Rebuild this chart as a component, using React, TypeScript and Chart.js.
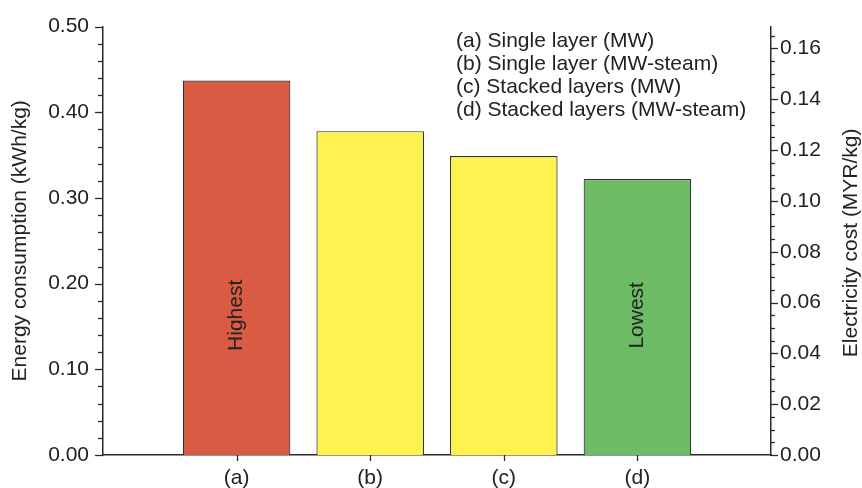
import React, { useEffect, useRef } from 'react';
import { Chart, registerables } from 'chart.js';
Chart.register(...registerables);

const categories = ['', '(a)', '(b)', '(c)', '(d)', ''];
const energy = [null, 0.437, 0.378, 0.349, 0.322, null];
const barColors = ['rgba(0,0,0,0)', '#D95B43', '#FFF150', '#FFF150', '#6EBB66', 'rgba(0,0,0,0)'];
const barNotes = ['', 'Highest', '', '', 'Lowest', ''];
const noteValue = 0.163;
const legendLines = [
  '(a) Single layer (MW)',
  '(b) Single layer (MW-steam)',
  '(c) Stacked layers (MW)',
  '(d) Stacked layers (MW-steam)',
];
const energyMax = 0.5;
const energyStep = 0.1;
const energyMinorStep = 0.02;
const costMax = 0.1686;
const costStep = 0.02;
const costMinorStep = 0.005;
const leftTitle = 'Energy consumption (kWh/kg)';
const rightTitle = 'Electricity cost (MYR/kg)';

const FONT = '"Liberation Sans", Arial, Helvetica, sans-serif';
const TEXT = '#222222';
const AXIS = '#2a2a2a';

const decorPlugin = {
  id: 'decor',
  afterDraw(chart: any) {
    const ctx = chart.ctx;
    const { left, right, top, bottom } = chart.chartArea;
    const xs = chart.scales.x;
    const ys = chart.scales.y;
    const y2 = chart.scales.y2;
    ctx.save();
    ctx.strokeStyle = AXIS;
    ctx.lineWidth = 1.3;
    // left ticks
    const nL = Math.round(energyMax / energyMinorStep);
    const per = Math.round(energyStep / energyMinorStep);
    for (let i = 0; i <= nL; i++) {
      const y = Math.round(ys.getPixelForValue(i * energyMinorStep)) + 0.5;
      const len = i % per === 0 ? 8 : 5;
      ctx.beginPath();
      ctx.moveTo(left - len, y);
      ctx.lineTo(left, y);
      ctx.stroke();
    }
    // right ticks
    const nR = Math.floor(costMax / costMinorStep + 1e-9);
    const perR = Math.round(costStep / costMinorStep);
    for (let i = 0; i <= nR; i++) {
      const y = Math.round(y2.getPixelForValue(i * costMinorStep)) + 0.5;
      const len = i % perR === 0 ? 7 : 4;
      ctx.beginPath();
      ctx.moveTo(right, y);
      ctx.lineTo(right + len, y);
      ctx.stroke();
    }
    // x ticks
    categories.forEach((c, i) => {
      if (!c) return;
      const x = Math.round(xs.getPixelForValue(i)) + 0.5;
      ctx.beginPath();
      ctx.moveTo(x, bottom);
      ctx.lineTo(x, bottom + 6);
      ctx.stroke();
    });
    // bar notes
    ctx.fillStyle = TEXT;
    ctx.font = `21px ${FONT}`;
    ctx.textAlign = 'center';
    ctx.textBaseline = 'middle';
    barNotes.forEach((t, i) => {
      if (!t) return;
      const x = xs.getPixelForValue(i);
      const y = ys.getPixelForValue(noteValue);
      ctx.save();
      ctx.translate(x, y);
      ctx.rotate(-Math.PI / 2);
      ctx.fillText(t, 0, 0);
      ctx.restore();
    });
    // axis titles
    const midY = (top + bottom) / 2;
    ctx.save();
    ctx.translate(20, midY);
    ctx.rotate(-Math.PI / 2);
    ctx.fillText(leftTitle, 0, 0);
    ctx.restore();
    ctx.save();
    ctx.translate(851, midY + 2);
    ctx.rotate(-Math.PI / 2);
    ctx.fillText(rightTitle, 0, 0);
    ctx.restore();
    // legend text
    ctx.textAlign = 'left';
    legendLines.forEach((t, i) => {
      ctx.fillText(t, 456, 41 + i * 23.2);
    });
    ctx.restore();
  },
};

export default function App() {
  const ref = useRef<HTMLCanvasElement | null>(null);
  useEffect(() => {
    document.body.style.margin = '0';
    if (!ref.current) return;
    const chart = new Chart(ref.current, {
      type: 'bar',
      data: {
        labels: categories,
        datasets: [
          {
            data: energy as any,
            backgroundColor: barColors,
            borderColor: '#333333',
            borderWidth: 1.2,
            categoryPercentage: 1,
            barPercentage: 0.805,
            yAxisID: 'y',
          },
        ],
      },
      options: {
        responsive: false,
        animation: false,
        layout: { padding: { top: 26, left: 0, right: 0, bottom: 0 } },
        plugins: { legend: { display: false }, tooltip: { enabled: false } },
        scales: {
          x: {
            type: 'category',
            offset: false,
            grid: { display: false, drawTicks: false },
            border: { display: true, color: AXIS, width: 1.5 },
            ticks: {
              color: TEXT,
              font: { family: FONT, size: 21 },
              padding: 11,
              maxRotation: 0,
              autoSkip: false,
            },
            afterFit(s: any) {
              s.height = 33;
            },
          },
          y: {
            position: 'left',
            min: 0,
            max: energyMax,
            grid: { display: false, drawTicks: false },
            border: { display: true, color: AXIS, width: 1.5 },
            ticks: {
              stepSize: energyStep,
              color: TEXT,
              font: { family: FONT, size: 21 },
              padding: 14,
              callback: (v: any) => Number(v).toFixed(2),
            },
            afterFit(s: any) {
              s.width = 103;
            },
          },
          y2: {
            type: 'linear',
            position: 'right',
            min: 0,
            max: costMax,
            grid: { display: false, drawTicks: false },
            border: { display: true, color: AXIS, width: 1.5 },
            ticks: {
              stepSize: costStep,
              includeBounds: false,
              color: TEXT,
              font: { family: FONT, size: 21 },
              padding: 9,
              callback: (v: any) => Number(v).toFixed(2),
            },
            afterFit(s: any) {
              s.width = 91;
            },
          },
        },
      } as any,
      plugins: [decorPlugin],
    });
    return () => chart.destroy();
  }, []);
  return (
    <div style={{ width: 862, height: 488, background: '#fff' }}>
      <canvas ref={ref} width={862} height={488} />
    </div>
  );
}
